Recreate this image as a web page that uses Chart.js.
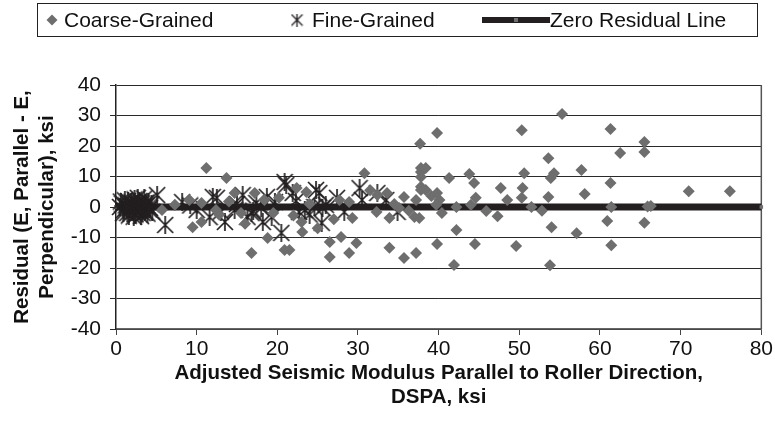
<!DOCTYPE html>
<html>
<head>
<meta charset="utf-8">
<script src="https://cdn.jsdelivr.net/npm/chart.js@4.4.1/dist/chart.umd.min.js"></script>
<style>
  html, body { margin: 0; padding: 0; background: #fff; }
  #chart { display: block; }
</style>
</head>
<body>
<canvas id="chart" width="775" height="422"></canvas>
<script>
// --- data ---
const coarseX = [5.7, 7.3, 9.1, 9.5, 10.6, 10.6, 11.2, 12.4, 13.7, 14.7, 15.5, 16.8, 17.2, 18.4, 18.8, 19.5, 20.9, 21.5, 22.4, 23.6,
  23.1, 23.0, 24.0, 26.5, 26.5, 27.9, 27.7, 28.9, 28.9, 29.3, 29.8, 30.8, 32.3, 32.4, 33.6, 33.9, 33.9, 35.1, 35.7, 35.7,
  37.0, 37.6, 37.2, 37.2, 37.7, 37.8, 37.8, 37.8, 37.8, 37.8, 38.4, 38.4, 39.1, 39.8, 40.1, 39.7, 40.4, 39.8, 41.3, 43.8,
  44.4, 42.2, 44.0, 44.6, 45.9, 47.3, 47.7, 48.5, 50.3, 50.6, 50.4, 50.3, 42.2, 39.8, 44.5, 49.6, 41.9, 51.5, 52.8, 53.6,
  53.6, 53.8, 53.9, 54.0, 54.3, 55.3, 57.1, 57.7, 58.1, 60.9, 61.3, 61.3, 61.4, 61.4, 62.5, 65.5, 65.5, 65.5, 65.9, 66.3,
  71.0, 76.1, 12.8, 14.0, 16.0, 20.2, 22.0, 25.0, 27.0, 31.5, 34.5, 36.3];
const coarseY = [-1.0, 0.7, 2.3, -6.6, 1.3, -4.9, 12.8, -1.0, 9.5, 4.6, -2.0, -15.1, 4.6, 2.3, -10.2, -2.0, -14.1, -14.1, 6.2, 4.9,
  -8.2, -4.9, 1.0, -11.5, -16.4, -9.8, 2.3, 1.6, -15.1, -3.6, -11.8, 11.1, -1.6, 3.9, 4.6, -3.6, -13.4, -0.3, 3.3, -16.7,
  -3.3, -3.6, 2.3, -15.1, 20.7, 12.8, 11.5, 9.8, 6.6, 5.6, 12.8, 5.6, 3.6, 4.6, 2.3, 0.7, -2.0, 24.3, 9.5, 10.8,
  7.9, 0.0, 0.7, 3.0, -1.3, -3.0, 6.2, 2.3, 25.2, 11.1, 6.2, 3.0, -7.5, -12.1, -12.1, -12.8, -19.0, 0.0, -1.2, 16.0,
  3.3, -19.1, 9.5, -6.6, 11.1, 30.5, -8.6, 12.1, 4.3, -4.6, 25.6, 7.9, 0.0, -12.5, 17.7, 21.3, 18.0, -5.2, 0.2, 0.3,
  5.2, 5.2, -2.5, 1.8, -5.5, 3.0, -2.8, -7.0, -4.0, 5.5, 1.0, -1.2];

const fineX = [0.5, 0.8, 1.0, 1.2, 1.4, 1.5, 1.7, 1.9, 2.0, 2.1, 2.3, 2.4, 2.5, 2.6, 2.8, 2.9, 3.0, 3.1, 3.2, 3.4,
  3.5, 3.6, 3.8, 3.9, 4.0, 4.2, 4.4, 4.5, 1.1, 1.6, 2.2, 2.7, 3.3, 0.9, 0.6, 1.3, 1.8, 2.9, 3.7, 4.1,
  5.1, 6.1, 8.2, 10.0, 12.5, 13.5, 15.7, 16.8, 17.4, 18.7, 18.2, 19.7, 20.5, 21.1, 22.7, 25.2, 25.5,
  12.0, 11.6, 14.7, 16.3, 18.0, 19.3, 20.9, 21.9, 23.4, 24.8, 24.6, 25.6, 26.0, 27.4, 28.3, 30.2, 30.5, 32.4, 33.5, 34.9,
  9.2, 13.0, 15.0, 17.0, 22.3, 24.0];
const fineY = [0.0, 1.0, -1.0, 0.5, -2.0, 2.0, -0.5, 1.5, -1.5, 0.3, 2.5, -2.5, -0.8, 1.0, -1.2, 2.0, 0.0, -3.0, 1.2, -0.5,
  2.8, -1.8, 0.6, -2.2, 1.8, -0.3, 0.9, -1.5, 2.2, -2.8, -3.2, 3.0, -2.0, -2.0, 1.8, -0.2, 0.4, -1.0, 1.4, -0.8,
  3.9, -5.9, 1.6, -1.0, 3.0, -4.9, 3.9, -2.0, 1.3, 3.3, -4.9, 1.6, -8.5, 7.2, -1.6, 4.6, -5.2,
  3.3, -3.3, -1.0, -3.3, -0.3, -3.3, 8.2, 4.6, -1.0, 5.6, 0.0, -0.3, 0.7, 3.0, -1.6, 6.2, 2.3, 4.6, 2.3, -1.6,
  0.5, -1.5, 1.0, -1.2, 2.0, -2.5];

const zeroX = [0, 80];
const zeroY = [0, 0];

const yTicks = [-40, -30, -20, -10, 0, 10, 20, 30, 40];
const xTicks = [0, 10, 20, 30, 40, 50, 60, 70, 80];

const seriesNames = ['Coarse-Grained', 'Fine-Grained', 'Zero Residual Line'];

// --- styles ---
const GREY = '#6e6e6e';
const INK = '#231f20';
const FONT = "'Liberation Sans', Arial, sans-serif";

// Excel style "star" marker: X with a vertical bar
function makeStar(size, lw) {
    const c = document.createElement('canvas');
    c.width = size; c.height = size;
    const g = c.getContext('2d');
    g.strokeStyle = INK;
    g.lineWidth = lw;
    g.beginPath();
    g.moveTo(1, 1); g.lineTo(size - 1, size - 1);
    g.moveTo(size - 1, 1); g.lineTo(1, size - 1);
    g.moveTo(size / 2, 0); g.lineTo(size / 2, size);
    g.stroke();
    return c;
}
const star = makeStar(18, 1.7);
const starSmall = makeStar(13, 1.3);

const toPts = (xs, ys) => xs.map((x, i) => ({ x, y: ys[i] }));

// legend drawn in a box across the top, like the original
const boxLegend = {
    id: 'boxLegend',
    afterDraw(chart) {
        const ctx = chart.ctx;
        ctx.save();
        ctx.strokeStyle = '#222';
        ctx.lineWidth = 1;
        ctx.strokeRect(37.5, 3.5, 720, 33);
        ctx.font = '21px ' + FONT;
        ctx.fillStyle = '#111';
        ctx.textBaseline = 'middle';
        const cy = 20;
        // diamond
        ctx.fillStyle = GREY;
        ctx.beginPath();
        ctx.moveTo(52, cy - 5.5); ctx.lineTo(57.5, cy); ctx.lineTo(52, cy + 5.5); ctx.lineTo(46.5, cy);
        ctx.closePath(); ctx.fill();
        ctx.fillStyle = '#111';
        ctx.fillText(seriesNames[0], 64, cy + 1);
        // star
        ctx.drawImage(starSmall, 297 - 6.5, cy - 6.5);
        ctx.fillText(seriesNames[1], 312, cy + 1);
        // line
        ctx.strokeStyle = INK;
        ctx.lineWidth = 6;
        ctx.beginPath(); ctx.moveTo(482, cy); ctx.lineTo(550, cy); ctx.stroke();
        ctx.fillStyle = GREY;
        ctx.fillRect(514, cy - 2, 4, 4);
        ctx.fillStyle = '#111';
        ctx.fillText(seriesNames[2], 550, cy + 1);
        ctx.restore();
    }
};

// right-hand frame of the plot area
const frame = {
    id: 'frame',
    beforeDatasetsDraw(chart) {
        const { ctx, chartArea: a } = chart;
        ctx.save();
        ctx.strokeStyle = '#555';
        ctx.lineWidth = 1.5;
        ctx.beginPath();
        ctx.moveTo(a.right, a.top); ctx.lineTo(a.right, a.bottom);
        ctx.stroke();
        ctx.restore();
    }
};

Chart.defaults.font.family = FONT;
Chart.defaults.font.size = 21;
Chart.defaults.color = '#111';

new Chart(document.getElementById('chart'), {
    type: 'scatter',
    data: {
        datasets: [
            {
                label: seriesNames[0],
                data: toPts(coarseX, coarseY),
                pointStyle: 'rectRot',
                pointRadius: 6,
                backgroundColor: GREY,
                borderColor: GREY,
                borderWidth: 0,
                clip: false
            },
            {
                label: seriesNames[1],
                data: toPts(fineX, fineY),
                pointStyle: star,
                clip: false
            },
            {
                label: seriesNames[2],
                data: toPts(zeroX, zeroY),
                showLine: true,
                borderColor: INK,
                borderWidth: 7,
                pointStyle: 'rect',
                pointRadius: 2.5,
                pointBackgroundColor: GREY,
                pointBorderWidth: 0,
                clip: false
            }
        ]
    },
    options: {
        responsive: false,
        animation: false,
        layout: { padding: { top: 85, right: 12, left: 0, bottom: 0 } },
        plugins: {
            legend: { display: false },
            tooltip: { enabled: false }
        },
        scales: {
            x: {
                type: 'linear',
                min: 0,
                max: 80,
                afterFit: s => { s.height = 93; },
                afterBuildTicks: s => { s.ticks = xTicks.map(v => ({ value: v })); },
                ticks: { padding: 2, color: '#111', font: { size: 21 } },
                grid: { drawOnChartArea: false, drawTicks: true, tickLength: 6, color: '#444' },
                border: { display: true, color: '#666', width: 1.5 },
                title: {
                    display: true,
                    text: ['Adjusted Seismic Modulus Parallel to Roller Direction,', 'DSPA, ksi'],
                    font: { size: 20.5, weight: 'bold', lineHeight: 1.2 },
                    padding: { top: 0, bottom: 12 },
                    color: '#111'
                }
            },
            y: {
                type: 'linear',
                min: -40,
                max: 40,
                afterFit: s => { s.width = 116; },
                afterBuildTicks: s => { s.ticks = yTicks.map(v => ({ value: v })); },
                ticks: { padding: 9, color: '#111', font: { size: 21 } },
                grid: { color: '#2a2a2a', lineWidth: 1, tickLength: 6 },
                border: { display: true, color: '#222', width: 1.5 },
                title: {
                    display: true,
                    text: ['Residual (E, Parallel - E,', 'Perpendicular), ksi'],
                    font: { size: 20.5, weight: 'bold', lineHeight: 1.22 },
                    padding: { top: 10, bottom: 0 },
                    color: '#111'
                }
            }
        }
    },
    plugins: [boxLegend, frame]
});
</script>
</body>
</html>
